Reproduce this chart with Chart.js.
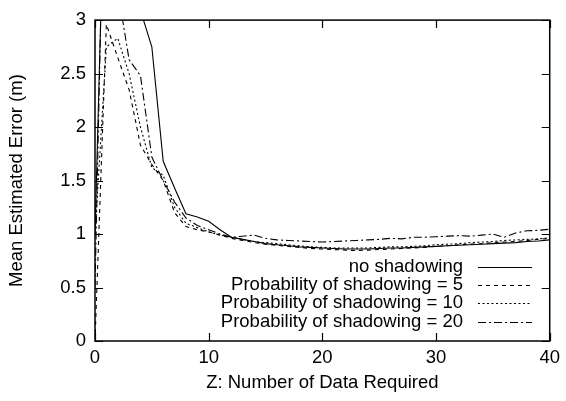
<!DOCTYPE html>
<html><head><meta charset="utf-8">
<script src="https://cdn.jsdelivr.net/npm/chart.js@4"></script>
<style>html,body{margin:0;padding:0;background:#fff}#wrap{width:566px;height:401px}</style>
</head><body><div id="wrap"><canvas id="c" width="566" height="401"></canvas></div>
<script>
const zValues = [0,1,2,3,4,5,6,7,8,9,10,11,12,13,14,15,16,17,18,19,20,21,22,23,24,25,26,27,28,29,30,31,32,33,34,35,36,37,38,39,40];
const noShadowing = [1.0,5.0,4.5,3.5,3.09,2.75,1.68,1.43,1.19,1.16,1.12,1.04,0.97,0.95,0.93,0.91,0.90,0.89,0.88,0.875,0.87,0.865,0.86,0.86,0.86,0.865,0.87,0.87,0.875,0.88,0.885,0.89,0.895,0.90,0.905,0.91,0.915,0.92,0.93,0.935,0.945];
const shadow5 = [0.0,2.96,2.65,2.35,1.83,1.65,1.5,1.2,1.07,1.04,1.02,0.99,0.96,0.94,0.92,0.905,0.895,0.885,0.875,0.865,0.86,0.855,0.85,0.845,0.85,0.855,0.86,0.865,0.87,0.875,0.885,0.89,0.9,0.905,0.91,0.92,0.925,0.93,0.94,0.95,0.96];
const shadow10 = [1.0,2.75,2.83,2.5,2.0,1.62,1.55,1.25,1.1,1.06,1.02,0.99,0.97,0.95,0.93,0.92,0.91,0.9,0.89,0.88,0.875,0.87,0.87,0.87,0.87,0.875,0.88,0.88,0.885,0.89,0.9,0.905,0.91,0.92,0.925,0.93,0.94,0.945,0.95,0.955,0.965];
const shadow20 = [0.5,5.5,3.28,2.63,2.48,1.72,1.5,1.3,1.15,1.08,1.04,1.0,0.97,0.98,0.99,0.96,0.945,0.94,0.935,0.93,0.925,0.93,0.935,0.94,0.945,0.95,0.96,0.955,0.97,0.97,0.975,0.98,0.985,0.98,0.99,1.0,0.97,1.01,1.03,1.035,1.045];
const seriesLabels = ['no shadowing','Probability of shadowing = 5','Probability of shadowing = 10','Probability of shadowing = 20'];
const xTickValues = [0,10,20,30,40];
const yTickValues = [0,0.5,1,1.5,2,2.5,3];
const xTitle = 'Z: Number of Data Required';
const yTitle = 'Mean Estimated Error (m)';

const FONT = 'Liberation Sans, Arial, sans-serif';
const FS = 18.5;
const dashes = [[], [4,4], [2,2.5], [8,3,2,3]];
const allSeries = [noShadowing, shadow5, shadow10, shadow20];

const datasets = allSeries.map((arr, i) => ({
  label: seriesLabels[i],
  data: arr.map((v, k) => ({x: zValues[k], y: v})),
  borderColor: '#000',
  borderWidth: 1.1,
  borderDash: dashes[i],
  pointRadius: 0,
  tension: 0,
  fill: false,
  clip: 0
}));

const framePlugin = {
  id: 'frame',
  afterDatasetsDraw(chart) {
    const {ctx, chartArea: a, scales} = chart;
    ctx.save();
    ctx.strokeStyle = '#000';
    ctx.lineWidth = 1.5;
    ctx.strokeRect(a.left, a.top, a.right - a.left, a.bottom - a.top);
    ctx.lineWidth = 1.2;
    const L = 8;
    ctx.beginPath();
    xTickValues.forEach(v => {
      const px = Math.round(scales.x.getPixelForValue(v)) + 0.5;
      ctx.moveTo(px, a.bottom); ctx.lineTo(px, a.bottom - L);
      ctx.moveTo(px, a.top); ctx.lineTo(px, a.top + L);
    });
    yTickValues.forEach(v => {
      const py = Math.round(scales.y.getPixelForValue(v)) + 0.5;
      ctx.moveTo(a.left, py); ctx.lineTo(a.left + L, py);
      ctx.moveTo(a.right, py); ctx.lineTo(a.right - L, py);
    });
    ctx.stroke();
    // legend
    const rows = [267, 285, 303, 322];
    ctx.font = FS + 'px ' + FONT;
    ctx.fillStyle = '#000';
    ctx.textAlign = 'right';
    ctx.textBaseline = 'middle';
    chart.data.datasets.forEach((ds, i) => {
      const y = rows[i];
      ctx.fillText(ds.label, 463, y);
      ctx.beginPath();
      ctx.setLineDash(ds.borderDash || []);
      ctx.lineWidth = ds.borderWidth;
      ctx.moveTo(478, y + 0.5); ctx.lineTo(532, y + 0.5);
      ctx.stroke();
    });
    ctx.restore();
  }
};

new Chart(document.getElementById('c'), {
  type: 'line',
  data: { datasets },
  options: {
    responsive: false,
    animation: false,
    devicePixelRatio: 1,
    layout: { padding: { top: 11, right: 11, left: 0, bottom: 0 } },
    plugins: { legend: { display: false }, tooltip: { enabled: false } },
    scales: {
      x: {
        type: 'linear', min: 0, max: 40,
        afterBuildTicks: s => { s.ticks = xTickValues.map(v => ({value: v})); },
        afterFit: s => { s.height = 60; },
        grid: { display: false, drawTicks: false },
        border: { display: false },
        ticks: { color: '#000', font: { family: FONT, size: FS }, padding: 6, maxRotation: 0, autoSkip: false, callback: v => String(v) },
        title: { display: true, text: xTitle, color: '#000', font: { family: FONT, size: FS }, padding: { top: 0, bottom: 7 } }
      },
      y: {
        type: 'linear', min: 0, max: 3,
        afterBuildTicks: s => { s.ticks = yTickValues.map(v => ({value: v})); },
        afterFit: s => { s.width = 95; },
        grid: { display: false, drawTicks: false },
        border: { display: false },
        ticks: { color: '#000', font: { family: FONT, size: FS }, padding: 9, autoSkip: false, callback: v => String(v) },
        title: { display: true, text: yTitle, color: '#000', font: { family: FONT, size: FS }, padding: { top: 6, bottom: 0 } }
      }
    }
  },
  plugins: [framePlugin]
});
</script></body></html>
